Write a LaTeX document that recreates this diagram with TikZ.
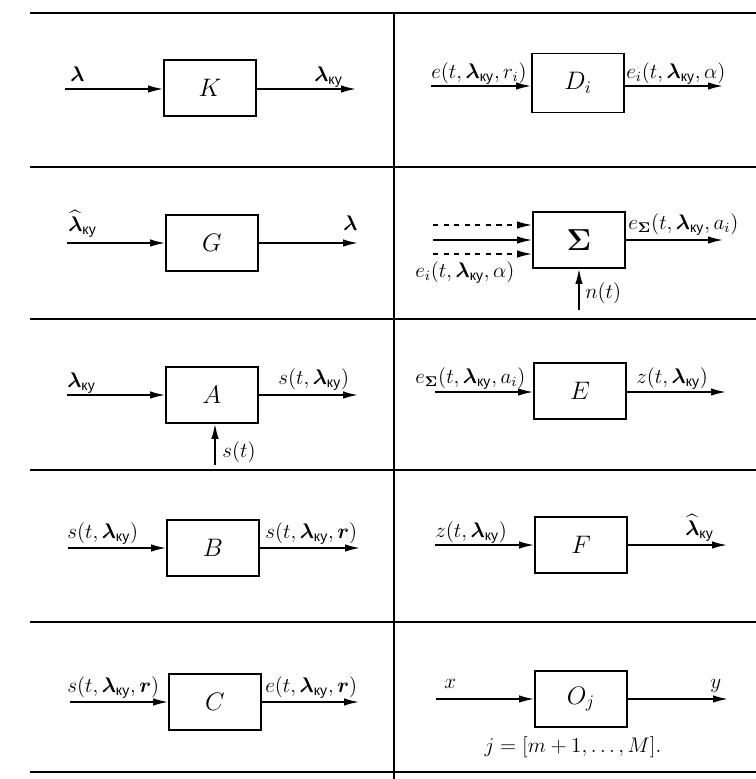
\documentclass[tikz,border=0pt]{standalone}
\usepackage{amsmath,amssymb}
\usepackage{fontspec}
\newfontfamily\cyrfont{Liberation Sans}
\usepackage{tikz}
\usetikzlibrary{arrows.meta,positioning,calc}
\newcommand{\lky}{\boldsymbol{\lambda}_{\text{\cyrfont ку}}}
\newcommand{\hlky}{\widehat{\boldsymbol{\lambda}}_{\text{\cyrfont ку}}}
\tikzstyle{blk}    = [rectangle, draw, line width=1pt,
                      minimum width=1.84cm, minimum height=1.12cm,
                      inner sep=0pt, font=\Large]
\tikzstyle{lbl}    = [inner sep=0pt, anchor=base west, font=\large]
\tikzstyle{sig}    = [line width=0.9pt, -{Latex[length=3mm,width=1.5mm]}]
\tikzstyle{tabline} = [line width=1.4pt]

\begin{document}
\begin{tikzpicture}[x=0.02cm, y=-0.02cm]
  \useasboundingbox (0,0) rectangle (756,779);
  % table
  \draw[tabline] (30,13) -- (756,13);
  \foreach \yy in {167,319,470,622,772}
    \draw[tabline] (30,\yy) -- (756,\yy);
  \draw[tabline] (394,13) -- (394,779);

  % row 1, left: K
  \node[blk] (K) at (210,88) {$K$};
  \coordinate (Kin)  at (65,89);
  \coordinate (Kout) at (356,89);
  \draw[sig] (Kin) -- (Kin -| K.west);
  \draw[sig] (K.east |- Kout) -- (Kout);
  \node[lbl] (Klin)  at (70,81)  {$\boldsymbol{\lambda}$};
  \node[lbl] (Klout) at (314,81) {$\lky$};

  % row 1, right: D_i
  \node[blk, minimum height=1.18cm] (D) at (578,83) {$D_i$};
  \coordinate (Din)  at (431,86);
  \coordinate (Dout) at (723,86);
  \draw[sig] (Din) -- (Din -| D.west);
  \draw[sig] (D.east |- Dout) -- (Dout);
  \node[lbl] (Dlin)  at (431,78) {$e(t,\lky,r_i)$};
  \node[lbl] (Dlout) at (626,78) {$e_i(t,\lky,\alpha)$};

  % row 2, left: G
  \node[blk] (G) at (212,243) {$G$};
  \coordinate (Gin)  at (67,243);
  \coordinate (Gout) at (358,243);
  \draw[sig] (Gin) -- (Gin -| G.west);
  \draw[sig] (G.east |- Gout) -- (Gout);
  \node[lbl] (Glin)  at (68,231)  {$\hlky$};
  \node[lbl] (Glout) at (343,230) {$\boldsymbol{\lambda}$};

  % row 2, right: summator
  \node[blk, font=\LARGE] (Sig) at (579,240) {$\boldsymbol{\Sigma}$};
  \coordinate (Sin1) at (433,225);
  \coordinate (Sin2) at (433,240);
  \coordinate (Sin3) at (433,254);
  \coordinate (Sout) at (723,240);
  \coordinate (Nin)  at (579,310);
  \draw[sig, dashed] (Sin1) -- (Sin1 -| Sig.west);
  \draw[sig]         (Sin2) -- (Sin2 -| Sig.west);
  \draw[sig, dashed] (Sin3) -- (Sin3 -| Sig.west);
  \draw[sig] (Sig.east |- Sout) -- (Sout);
  \draw[sig] (Nin) -- (Sig.south);
  \node[lbl] (Slin)  at (415,277) {$e_i(t,\lky,\alpha)$};
  \node[lbl] (Slout) at (628,229) {$e_{\boldsymbol{\Sigma}}(t,\lky,a_i)$};
  \node[lbl] (Sln)   at (585,298) {$n(t)$};

  % row 3, left: A
  \node[blk] (A) at (212,395) {$A$};
  \coordinate (Ain)  at (67,395);
  \coordinate (Aout) at (358,395);
  \coordinate (Ains) at (215,465);
  \draw[sig] (Ain) -- (Ain -| A.west);
  \draw[sig] (A.east |- Aout) -- (Aout);
  \draw[sig] (Ains) -- (Ains |- A.south);
  \node[lbl] (Alin)  at (67,387)  {$\lky$};
  \node[lbl] (Alout) at (278,384) {$s(t,\lky)$};
  \node[lbl] (Als)   at (222,457) {$s(t)$};

  % row 3, right: E
  \node[blk] (E) at (580,391) {$E$};
  \coordinate (Ein)  at (435,392);
  \coordinate (Eout) at (726,392);
  \draw[sig] (Ein) -- (Ein -| E.west);
  \draw[sig] (E.east |- Eout) -- (Eout);
  \node[lbl] (Elin)  at (415,383) {$e_{\boldsymbol{\Sigma}}(t,\lky,a_i)$};
  \node[lbl] (Elout) at (636,383) {$z(t,\lky)$};

  % row 4, left: B
  \node[blk] (B) at (213,548) {$B$};
  \coordinate (Bin)  at (68,548);
  \coordinate (Bout) at (360,548);
  \draw[sig] (Bin) -- (Bin -| B.west);
  \draw[sig] (B.east |- Bout) -- (Bout);
  \node[lbl] (Blin)  at (67,538)  {$s(t,\lky)$};
  \node[lbl] (Blout) at (265,538) {$s(t,\lky,\boldsymbol{r})$};

  % row 4, right: F
  \node[blk] (F) at (581,545) {$F$};
  \coordinate (Fin)  at (435,545);
  \coordinate (Fout) at (727,545);
  \draw[sig] (Fin) -- (Fin -| F.west);
  \draw[sig] (F.east |- Fout) -- (Fout);
  \node[lbl] (Flin)  at (435,537) {$z(t,\lky)$};
  \node[lbl] (Flout) at (685,535) {$\hlky$};

  % row 5, left: C
  \node[blk] (C) at (215,702) {$C$};
  \coordinate (Cin)  at (70,702);
  \coordinate (Cout) at (359,702);
  \draw[sig] (Cin) -- (Cin -| C.west);
  \draw[sig] (C.east |- Cout) -- (Cout);
  \node[lbl] (Clin)  at (67,692)  {$s(t,\lky,\boldsymbol{r})$};
  \node[lbl] (Clout) at (265,692) {$e(t,\lky,\boldsymbol{r})$};

  % row 5, right: O_j
  \node[blk] (O) at (581,699) {$O_j$};
  \coordinate (Oin)  at (436,699);
  \coordinate (Oout) at (728,699);
  \draw[sig] (Oin) -- (Oin -| O.west);
  \draw[sig] (O.east |- Oout) -- (Oout);
  \node[lbl] (Olin)  at (444,688) {$x$};
  \node[lbl] (Olout) at (710,688) {$y$};
  \node[lbl, anchor=base] (Oj) at (573,752) {$j=[m+1,\ldots,M].$};
\end{tikzpicture}
\end{document}
